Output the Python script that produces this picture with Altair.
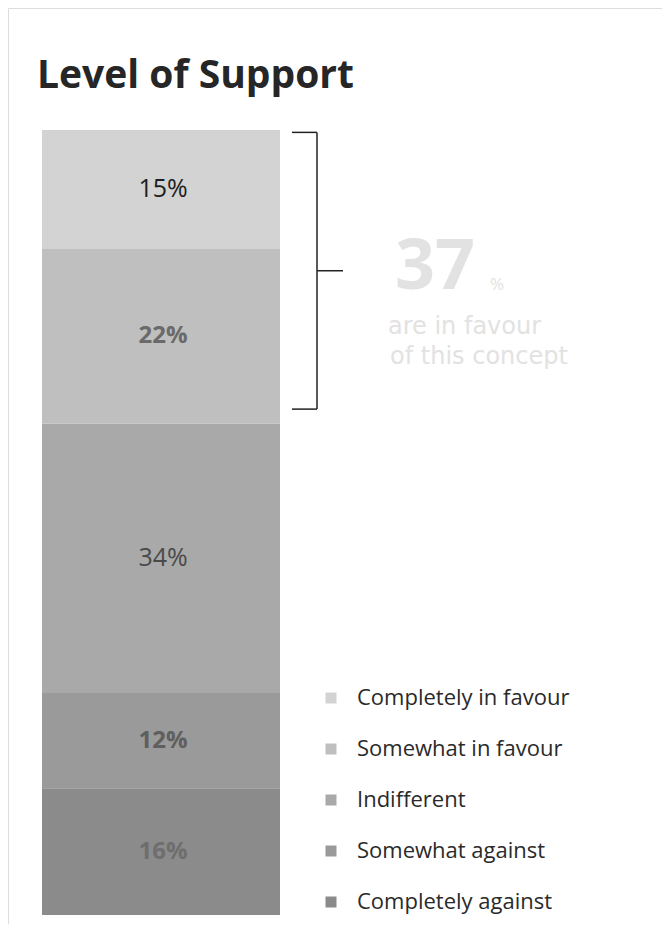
import altair as alt
import pandas as pd

categories = ["Completely in favour", "Somewhat in favour", "Indifferent",
              "Somewhat against", "Completely against"]
values = [15, 22, 34, 12, 16]
colors = ["#d3d3d3", "#bfbfbf", "#a9a9a9", "#9a9a9a", "#8b8b8b"]
label_colors = ["#1e1e1e", "#6a6a6a", "#4a4a4a", "#5f5f5f", "#6e6e6e"]
label_bold = [False, True, False, True, True]

total = sum(values)
rows = []
acc = 0
for cat, v, lc, b in reversed(list(zip(categories, values, label_colors, label_bold))):
    rows.append({"cat": cat, "v": v, "y0": acc, "y1": acc + v, "mid": acc + v / 2,
                 "label": f"{v}%", "lc": lc, "bold": b})
    acc += v
df = pd.DataFrame(rows)

favour_total = values[0] + values[1]
bracket_df = pd.DataFrame({"top": [total - 0.3], "bot": [total - favour_total + 1.8]})
bracket_df["mid"] = (bracket_df["top"] + bracket_df["bot"]) / 2

W, H = 654, 916
yscale = alt.Scale(domain=[0, total], range=[907, 122])
FONT = "Open Sans"
LIGHT = "#e2e2e2"

base = alt.Chart(df)

bars = base.mark_bar(stroke=None).encode(
    x=alt.value(34), x2=alt.value(272),
    y=alt.Y("y0:Q", scale=yscale, axis=None),
    y2="y1:Q",
    color=alt.Color("cat:N", scale=alt.Scale(domain=categories, range=colors),
                    legend=alt.Legend(title=None, orient="none", legendX=312, legendY=679,
                                      symbolType="square", symbolSize=121,
                                      symbolStrokeWidth=0, labelLimit=400,
                                      labelFont=FONT, labelFontSize=22, labelColor="#2a2a2a",
                                      labelOffset=15, rowPadding=29, padding=0)),
)

labels_normal = base.transform_filter("!datum.bold").mark_text(
    font=FONT, fontSize=25, baseline="middle", align="center").encode(
    x=alt.value(155), y=alt.Y("mid:Q", scale=yscale), text="label:N",
    color=alt.Color("lc:N", scale=None))
labels_bold = base.transform_filter("datum.bold").mark_text(
    font=FONT, fontSize=24, fontWeight="bold", baseline="middle", align="center").encode(
    x=alt.value(155), y=alt.Y("mid:Q", scale=yscale), text="label:N",
    color=alt.Color("lc:N", scale=None))

bb = alt.Chart(bracket_df)
vline = bb.mark_rule(color="#222", strokeWidth=1.5).encode(
    x=alt.value(309), y=alt.Y("top:Q", scale=yscale), y2="bot:Q")
top_hook = bb.mark_rule(color="#222", strokeWidth=1.5).encode(
    x=alt.value(284), x2=alt.value(309), y=alt.Y("top:Q", scale=yscale))
bot_hook = bb.mark_rule(color="#222", strokeWidth=1.5).encode(
    x=alt.value(284), x2=alt.value(309), y=alt.Y("bot:Q", scale=yscale))
mid_tick = bb.mark_rule(color="#222", strokeWidth=1.5).encode(
    x=alt.value(309), x2=alt.value(335), y=alt.Y("mid:Q", scale=yscale))

big_num = bb.mark_text(font=FONT, fontSize=70, fontWeight="bold", color=LIGHT,
                       align="left", baseline="alphabetic").encode(
    x=alt.value(387), y=alt.value(281), text=alt.value(str(favour_total)))
pct = bb.mark_text(font=FONT, fontSize=17, color=LIGHT, align="left",
                   baseline="alphabetic").encode(
    x=alt.value(482), y=alt.value(282), text=alt.value("%"))
line1 = bb.mark_text(font="DejaVu Sans", fontSize=24, color=LIGHT, align="left",
                     baseline="alphabetic").encode(
    x=alt.value(380), y=alt.value(326), text=alt.value("are in favour"))
line2 = bb.mark_text(font="DejaVu Sans", fontSize=24, color=LIGHT, align="left",
                     baseline="alphabetic").encode(
    x=alt.value(382), y=alt.value(356), text=alt.value("of this concept"))

chart = alt.layer(
    bars, labels_normal, labels_bold, vline, top_hook, bot_hook, mid_tick,
    big_num, pct, line1, line2
).properties(
    width=W, height=H, padding=0, autosize=alt.AutoSizeParams(type="none"),
    title=alt.TitleParams("Level of Support", anchor="start", font=FONT, fontSize=39,
                          fontWeight="bold", color="#262626", orient="top",
                          offset=-88, dx=29, frame="group")
).configure_view(stroke="#ececec", strokeWidth=2).configure(background="white")

chart.save("out.html", embed_options={"renderer": "svg", "actions": False})
